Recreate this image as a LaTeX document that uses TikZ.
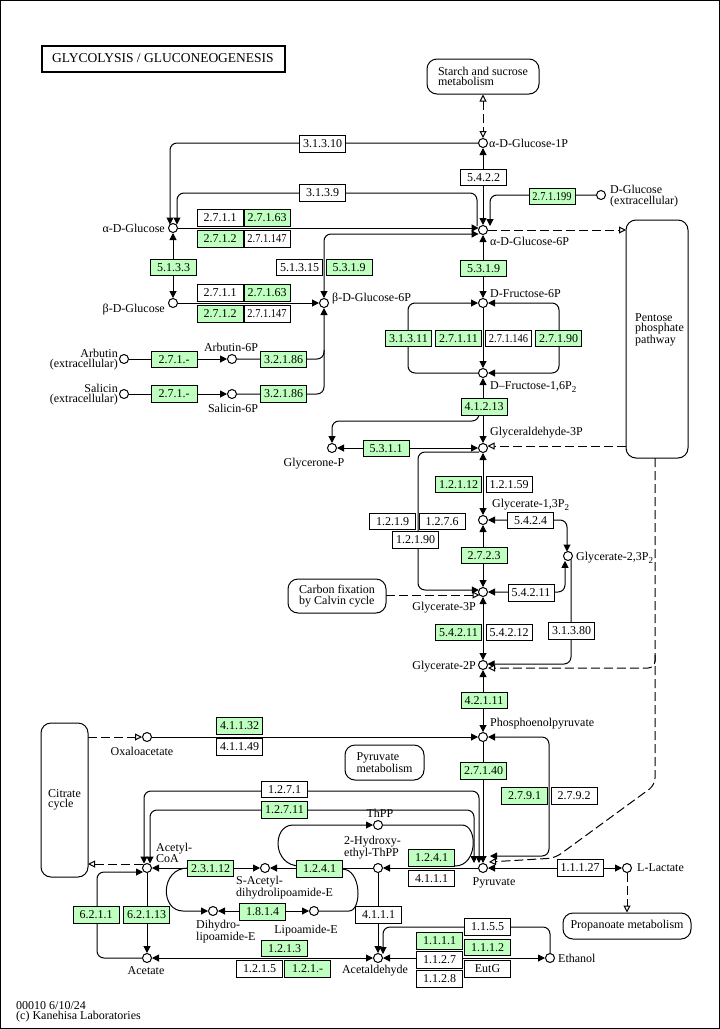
\documentclass[tikz,border=0pt]{standalone}
\usepackage{fontspec}
\setmainfont{Liberation Serif}
\usepackage{graphicx}
\usetikzlibrary{arrows.meta}
\definecolor{kgreen}{HTML}{BFFFBF}
\newcommand\cpdfont{\fontsize{12}{10.5}\selectfont}
\newcommand\enzfont{\fontsize{12}{12}\selectfont}
\newcommand\nrw[1]{\scalebox{0.87}[1]{#1}}
\newcommand\subtwo{\raisebox{-3.5pt}{\fontsize{9}{9}\selectfont 2}}
\pgfdeclarelayer{background}
\pgfsetlayers{background,main}
\tikzset{
  kt/.tip={Triangle[length=7pt,width=7pt]},
  ko/.tip={Triangle[length=7pt,width=7pt,fill=white]},
  cpd/.style={circle,draw,fill=white,minimum size=9pt,inner sep=0pt,line width=1pt},
  enz/.style={draw,fill=white,minimum width=46pt,minimum height=16.5pt,inner sep=0pt,line width=1pt,font=\enzfont},
  genz/.style={enz,fill=kgreen},
  lbl/.style={inner sep=0pt,font=\cpdfont},
  conn/.style={line width=1pt,rounded corners=7pt},
  dconn/.style={conn,dash pattern=on 9pt off 4pt},
  mapbox/.style={draw,rounded corners=10pt,fill=white,line width=1pt,font=\cpdfont,inner sep=0pt}
}
\begin{document}
\begin{tikzpicture}[x=1pt,y=-1pt]
\useasboundingbox (0,0) rectangle (720,1029);
\draw[line width=1pt] (0.5,0.5) rectangle (719.5,1028.5);

% title
\node[draw,line width=2pt,minimum width=243pt,minimum height=26pt,inner sep=0pt,font=\fontsize{13.5}{14}\selectfont] (title) at (163,58.5) {GLYCOLYSIS / GLUCONEOGENESIS};

% maps
\node[mapbox,minimum width=112pt,minimum height=35pt,align=left] (starch) at (483,76.5) {Starch and sucrose\\metabolism};
\node[mapbox,minimum width=62pt,minimum height=238pt] (pent) at (657,339) {};
\node[lbl,anchor=west,align=left] (penttxt) at (635,330) {Pentose\\phosphate\\pathway};
\node[mapbox,minimum width=98pt,minimum height=34pt,align=left] (carbon) at (337,596) {Carbon fixation\\by Calvin cycle};
\node[mapbox,minimum width=47pt,minimum height=154pt,align=left] (citrate) at (64.5,800) {Citrate\\cycle};
\node[mapbox,minimum width=79pt,minimum height=35pt,align=left] (pyrmet) at (384.5,762.5) {Pyruvate\\metabolism};
\node[mapbox,minimum width=128pt,minimum height=26pt] (prop) at (627,926) {Propanoate metabolism};

% compounds
\node[cpd] (a1p) at (483,143) {};
\node[cpd] (a6p) at (483,230) {};
\node[cpd] (ag) at (173,228) {};
\node[cpd] (bg) at (173,303) {};
\node[cpd] (bg6p) at (324,303) {};
\node[cpd] (dglc) at (601,195) {};
\node[cpd] (f6p) at (483,303) {};
\node[cpd] (fbp) at (483,373) {};
\node[cpd] (gap) at (483,448) {};
\node[cpd] (dhap) at (332,448) {};
\node[cpd] (bpgA) at (483,520) {};
\node[cpd] (bpgB) at (568,556) {};
\node[cpd] (pgaC) at (483,592) {};
\node[cpd] (pgaB) at (483,665) {};
\node[cpd] (pep) at (483,737) {};
\node[cpd] (pyr) at (483,868) {};
\node[cpd] (lac) at (627,868) {};
\node[cpd] (oaa) at (147,737) {};
\node[cpd] (accoa) at (147,868) {};
\node[cpd] (sacl) at (265,868) {};
\node[cpd] (heth) at (378,868) {};
\node[cpd] (thpp) at (378,825) {};
\node[cpd] (dhlip) at (213,911) {};
\node[cpd] (lip) at (314,911) {};
\node[cpd] (acet) at (147,958) {};
\node[cpd] (acald) at (378,958) {};
\node[cpd] (etoh) at (550,958) {};
\node[cpd] (arb) at (124,359) {};
\node[cpd] (arb6p) at (232,359) {};
\node[cpd] (sal) at (124,394) {};
\node[cpd] (sal6p) at (232,394) {};

% enzymes
\node[enz] (e3131) at (322.5,144) {3.1.3.10};
\node[enz] (e3139) at (322.5,193) {3.1.3.9};
\node[enz] (e5422) at (483.5,177.5) {5.4.2.2};
\node[genz] (e271199) at (552,196.5) {\nrw{2.7.1.199}};
\node[enz] (e2711a) at (220,218) {2.7.1.1};
\node[genz] (e27163a) at (267,218) {2.7.1.63};
\node[genz] (e2712a) at (220,239) {2.7.1.2};
\node[enz] (e271147a) at (267,239) {\nrw{2.7.1.147}};
\node[genz] (e5133) at (173.5,267.5) {5.1.3.3};
\node[enz] (e2711b) at (220,293) {2.7.1.1};
\node[genz] (e27163b) at (267,293) {2.7.1.63};
\node[genz] (e2712b) at (220,314) {2.7.1.2};
\node[enz] (e271147b) at (267,314) {\nrw{2.7.1.147}};
\node[enz] (e51315) at (299.5,267.5) {5.1.3.15};
\node[genz] (e5319a) at (349,267.5) {5.3.1.9};
\node[genz] (e5319b) at (483.5,268.5) {5.3.1.9};
\node[genz] (e271a) at (174,359.5) {2.7.1.-};
\node[genz] (e32186a) at (283.5,359.5) {3.2.1.86};
\node[genz] (e271b) at (174,394) {2.7.1.-};
\node[genz] (e32186b) at (283.5,394) {3.2.1.86};
\node[genz] (e31311) at (408.5,338.5) {3.1.3.11};
\node[genz] (e27111) at (458.5,338.5) {2.7.1.11};
\node[enz] (e271146) at (508.5,338.5) {\nrw{2.7.1.146}};
\node[genz] (e27190) at (558.5,338.5) {2.7.1.90};
\node[genz] (e41213) at (484,407) {4.1.2.13};
\node[genz] (e5311) at (386,448.5) {5.3.1.1};
\node[genz] (e12112) at (458.5,484.5) {1.2.1.12};
\node[enz] (e12159) at (509,484.5) {1.2.1.59};
\node[enz] (e1219) at (392.5,521.5) {1.2.1.9};
\node[enz] (e1276) at (442,521.5) {1.2.7.6};
\node[enz] (e12190) at (415.5,540) {1.2.1.90};
\node[enz] (e5424) at (530.5,520.5) {5.4.2.4};
\node[genz] (e2723) at (484,555.5) {2.7.2.3};
\node[enz] (e54211a) at (531,593) {5.4.2.11};
\node[genz] (e54211b) at (458.5,632.5) {5.4.2.11};
\node[enz] (e54212) at (509,632.5) {5.4.2.12};
\node[enz] (e31380) at (571.5,631) {3.1.3.80};
\node[genz] (e42111) at (484,700.5) {4.2.1.11};
\node[genz] (e41132) at (239.5,726) {4.1.1.32};
\node[enz] (e41149) at (239.5,747) {4.1.1.49};
\node[genz] (e27140) at (483.5,771) {2.7.1.40};
\node[genz] (e2791) at (524.5,796) {2.7.9.1};
\node[enz] (e2792) at (574,796) {2.7.9.2};
\node[enz] (e1271) at (284.5,789.5) {1.2.7.1};
\node[genz] (e12711) at (284.5,810) {1.2.7.11};
\node[genz] (e1241a) at (431.5,858) {1.2.4.1};
\node[enz] (e4111a) at (431.5,878.5) {4.1.1.1};
\node[enz] (e11127) at (580,868) {1.1.1.27};
\node[genz] (e23112) at (210.5,868.5) {2.3.1.12};
\node[genz] (e1241b) at (319.5,869) {1.2.4.1};
\node[genz] (e1814) at (262.5,912) {1.8.1.4};
\node[enz] (e4111b) at (378.5,915) {4.1.1.1};
\node[genz] (e6211) at (96,915) {6.2.1.1};
\node[genz] (e62113) at (146.5,915) {6.2.1.13};
\node[genz] (e1213) at (284.5,948.5) {1.2.1.3};
\node[enz] (e1215) at (259.5,969) {1.2.1.5};
\node[genz] (e121x) at (307.5,969) {1.2.1.-};
\node[enz] (e1155) at (487.5,927) {1.1.5.5};
\node[genz] (e1111) at (439.5,941) {1.1.1.1};
\node[genz] (e1112) at (487.5,947.5) {1.1.1.2};
\node[enz] (e1127) at (439.5,960) {1.1.2.7};
\node[enz] (eEutG) at (487.5,969) {EutG};
\node[enz] (e1128) at (439.5,979) {1.1.2.8};

% labels
\node[lbl,anchor=west] (la1p) at (489,143) {α-D-Glucose-1P};
\node[lbl,anchor=west] (la6p) at (490,241) {α-D-Glucose-6P};
\node[lbl,anchor=east] (lag) at (165,228) {α-D-Glucose};
\node[lbl,anchor=east] (lbg) at (165,310) {β-D-Glucose};
\node[lbl,anchor=west] (lbg6p) at (332,299) {β-D-Glucose-6P};
\node[lbl,anchor=west,align=left] (ldglc) at (610,196) {D-Glucose\\(extracellular)};
\node[lbl,anchor=west] (lf6p) at (490,294) {D-Fructose-6P};
\node[lbl,anchor=west] (lfbp) at (490,387) {D–Fructose-1,6P\subtwo};
\node[lbl,anchor=west] (lgap) at (490,433) {Glyceraldehyde-3P};
\node[lbl] (ldhap) at (314,464) {Glycerone-P};
\node[lbl,anchor=west] (lbpgA) at (492,505) {Glycerate-1,3P\subtwo};
\node[lbl,anchor=west] (lbpgB) at (576,558) {Glycerate-2,3P\subtwo};
\node[lbl,anchor=east] (lpgaC) at (476,608) {Glycerate-3P};
\node[lbl,anchor=east] (lpgaB) at (476,667) {Glycerate-2P};
\node[lbl,anchor=west] (lpep) at (490,724) {Phosphoenolpyruvate};
\node[lbl] (lpyr) at (494,883) {Pyruvate};
\node[lbl,anchor=west] (llac) at (637,868) {L-Lactate};
\node[lbl] (loaa) at (142,751) {Oxaloacetate};
\node[lbl,anchor=west,align=left] (laccoa) at (156,853) {Acetyl-\\CoA};
\node[lbl,anchor=west,align=left] (lsacl) at (236,887.5) {S-Acetyl-\\dihydrolipoamide-E};
\node[lbl,anchor=west,align=left] (lheth) at (344,848) {2-Hydroxy-\\ethyl-ThPP};
\node[lbl] (lthpp) at (380,813) {ThPP};
\node[lbl,anchor=west,align=left] (ldhlip) at (196,932) {Dihydro-\\lipoamide-E};
\node[lbl] (llip) at (306,931) {Lipoamide-E};
\node[lbl] (lacet) at (146,971) {Acetate};
\node[lbl] (lacald) at (375,971) {Acetaldehyde};
\node[lbl,anchor=west] (letoh) at (558,958) {Ethanol};
\node[lbl,anchor=east,align=right] (larb) at (118,359.5) {Arbutin\\(extracellular)};
\node[lbl] (larb6p) at (231,347) {Arbutin-6P};
\node[lbl,anchor=east,align=right] (lsal) at (118,394.5) {Salicin\\(extracellular)};
\node[lbl] (lsal6p) at (233,408) {Salicin-6P};
\node[lbl,anchor=west,align=left] (foot) at (16,1012) {00010 6/10/24\\(c) Kanehisa Laboratories};

\begin{pgfonlayer}{background}
% upper glucose part
\draw[conn,-kt] (a1p.west) -- (170,143) -- (170,224.5);
\draw[conn,-kt] (477,226) -- (477,193) -- (177,193) -- (177,224.5);
\draw[conn,kt-kt] (a1p.south) -- (a6p.north);
\draw[conn,-kt] (dglc.west) -- (490,195) -- (490,226);
\draw[conn,-kt] (ag.east) -- (478.6,228);
\draw[conn,kt-kt] (478.6,234) -- (324,234) -- (bg6p.north);
\draw[conn,kt-kt] (ag.south) -- (bg.north);
\draw[conn,-kt] (bg.east) -- (bg6p.west);
\draw[conn,-kt] (arb.east) -- (arb6p.west);
\draw[conn,-kt] (sal.east) -- (sal6p.west);
\draw[conn,-kt] (arb6p.east) -- (324,359) -- (bg6p.south);
\draw[conn] (sal6p.east) -- (324,394) -- (324,350);
\draw[conn,kt-kt] (a6p.south) -- (f6p.north);
\draw[conn,-kt] (f6p.south) -- (fbp.north);
\draw[conn,-kt] (fbp.west) -- (408,373) -- (408,303) -- (f6p.west);
\draw[conn,kt-kt] (f6p.east) -- (559,303) -- (559,373) -- (fbp.east);
\draw[conn,kt-kt] (fbp.south) -- (gap.north);
\draw[conn,-kt] (479,414) -- (479,421) -- (332,421) -- (dhap.north);
\draw[conn,kt-kt] (dhap.east) -- (gap.west);
\draw[conn,kt-kt] (gap.south) -- (bpgA.north);
\draw[conn,-kt] (479,452) -- (418,452) -- (418,590) -- (478.8,590);
\draw[conn,kt-kt] (bpgA.east) -- (567,520) -- (567,551.5);
\draw[conn,kt-kt] (565,560.8) -- (565,592) -- (pgaC.east);
\draw[conn,kt-kt] (bpgA.south) -- (pgaC.north);
\draw[conn,-kt] (571,560) -- (571,664) -- (487.5,664);
\draw[conn,kt-kt] (pgaC.south) -- (pgaB.north);
\draw[conn,kt-kt] (pgaB.south) -- (pep.north);
\draw[conn,-kt] (oaa.east) -- (pep.west);
\draw[conn,-kt] (pep.south) -- (pyr.north);
\draw[conn,kt-kt] (pep.east) -- (549,737) -- (549,856) -- (490,856);
\draw[conn,kt-kt] (144,863.5) -- (144,791) -- (479,791) -- (479,863);
\draw[conn,kt-kt] (150,863.5) -- (150,810) -- (474,810) -- (474,863);
\draw[conn,kt-kt] (pyr.east) -- (lac.west);
\draw[conn,-kt] (pyr.west) -- (heth.east);
\draw[conn] (thpp.east) -- (455,825) .. controls (478,825) and (478,866) .. (455,866);
\draw[conn,-kt] (300,866) .. controls (272,866) and (272,825) .. (300,825) -- (thpp.west);
\draw[conn,-kt] (heth.west) -- (sacl.east);
\draw[conn] (lip.east) -- (342,911) .. controls (362,911) and (362,869) .. (342,869);
\draw[conn,kt-kt] (sacl.west) -- (accoa.east);
\draw[conn,-kt] (188,868) .. controls (160,868) and (160,911) .. (190,911) -- (dhlip.west);
\draw[conn,kt-kt] (dhlip.east) -- (lip.west);
\draw[conn,-kt] (heth.south) -- (acald.north);
\draw[conn,-kt] (etoh.north) -- (550,927) -- (383,927) -- (383,954);
\draw[conn,kt-kt] (acald.east) -- (etoh.west);
\draw[conn,kt-kt] (acald.west) -- (acet.east);
\draw[conn,-kt] (accoa.south) -- (acet.north);
\draw[conn,-kt] (acet.west) -- (97,958) -- (97,872) -- (143,872);
% dashed map links
\draw[dconn,ko-ko] (starch.south) -- (a1p.north);
\draw[dconn,-ko] (a6p.east) -- (626,230);
\draw[dconn,-ko] (626,446) -- (487.5,446);
\draw[dconn,-ko] (655,458) -- (655,785) -- (555,858) -- (489,862);
\draw[dconn,-ko] (655,655) -- (655,668) -- (488,668);
\draw[dconn,-ko] (386,595) -- (479.5,595);
\draw[dconn,-ko] (88,737) -- (oaa.west);
\draw[dconn,-ko] (142.5,864) -- (88,864);
\draw[dconn,-ko] (lac.south) -- (prop.north);
\end{pgfonlayer}
\end{tikzpicture}
\end{document}
